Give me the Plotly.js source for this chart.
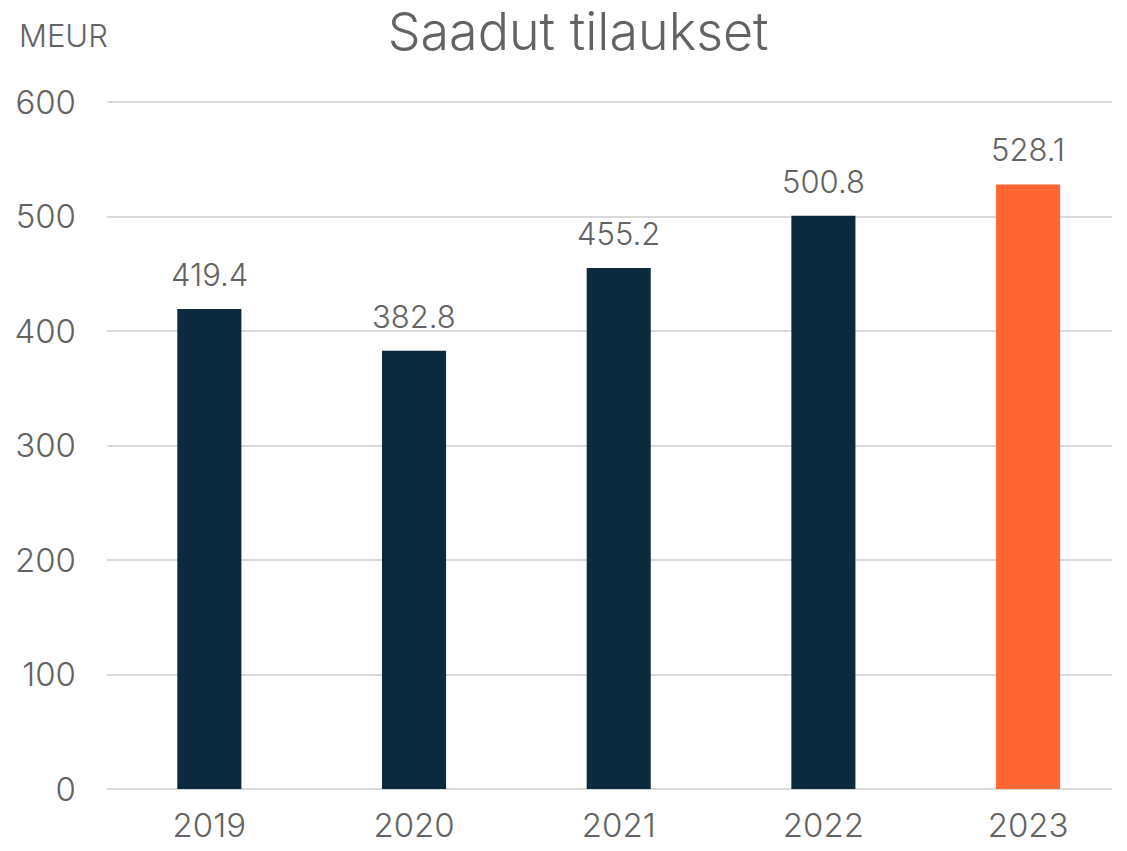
<!DOCTYPE html>
<html><head><meta charset="utf-8">
<script src="https://cdn.plot.ly/plotly-3.0.1.min.js"></script>
<style>html,body{margin:0;padding:0;background:#fff}#chart{width:1127px;height:851px}</style>
</head><body><div id="chart"></div>
<script>
const years = ['2019','2020','2021','2022','2023'];
const orders = [419.4, 382.8, 455.2, 500.8, 528.1];
const labels = ['419.4','382.8','455.2','500.8','528.1'];
const barColors = ['#0B2A3D','#0B2A3D','#0B2A3D','#0B2A3D','#FF6633'];
const yTicks = [0,100,200,300,400,500,600];

const FONT = 'Inter, "Open Sans", sans-serif';
const GRAY = '#636363';

const trace = {
  type: 'bar', x: years, y: orders,
  marker: {color: barColors},
  width: 0.313,
  hoverinfo: 'skip'
};

const annotations = years.map((yr, i) => ({
  x: i, y: orders[i], xref: 'x', yref: 'y',
  text: labels[i], showarrow: false,
  yanchor: 'bottom', yshift: 14,
  font: {family: FONT, size: 31, color: GRAY, weight: 300}
}));
annotations.push({
  xref: 'paper', yref: 'paper', x: -0.0896, y: 1.0946,
  xanchor: 'left', yanchor: 'middle', text: 'MEUR', showarrow: false,
  font: {family: FONT, size: 31, color: GRAY, weight: 300}
});

const layout = {
  width: 1127, height: 851,
  margin: {l: 107, r: 15, t: 101, b: 62},
  paper_bgcolor: '#fff', plot_bgcolor: '#fff',
  showlegend: false,
  title: {text: 'Saadut tilaukset', xref: 'container', yref: 'container',
          x: 0.513, xanchor: 'center', y: 0.963, yanchor: 'middle',
          font: {family: FONT, size: 52, color: GRAY, weight: 300}},
  xaxis: {type: 'category', range: [-0.5, 4.41], showgrid: false, zeroline: false,
          showline: false, ticks: '', ticklabelstandoff: 14,
          tickfont: {family: FONT, size: 33, color: GRAY, weight: 300}},
  yaxis: {range: [0, 601], tickvals: yTicks, showgrid: true, gridcolor: '#D9D9D9', gridwidth: 2,
          zeroline: true, zerolinecolor: '#D9D9D9', zerolinewidth: 2,
          showline: false, ticks: '', ticklabelstandoff: 30,
          tickfont: {family: FONT, size: 33, color: GRAY, weight: 300}},
  annotations: annotations,
  bargap: 0.687
};

Plotly.newPlot('chart', [trace], layout, {displayModeBar: false, staticPlot: true});
</script></body></html>
